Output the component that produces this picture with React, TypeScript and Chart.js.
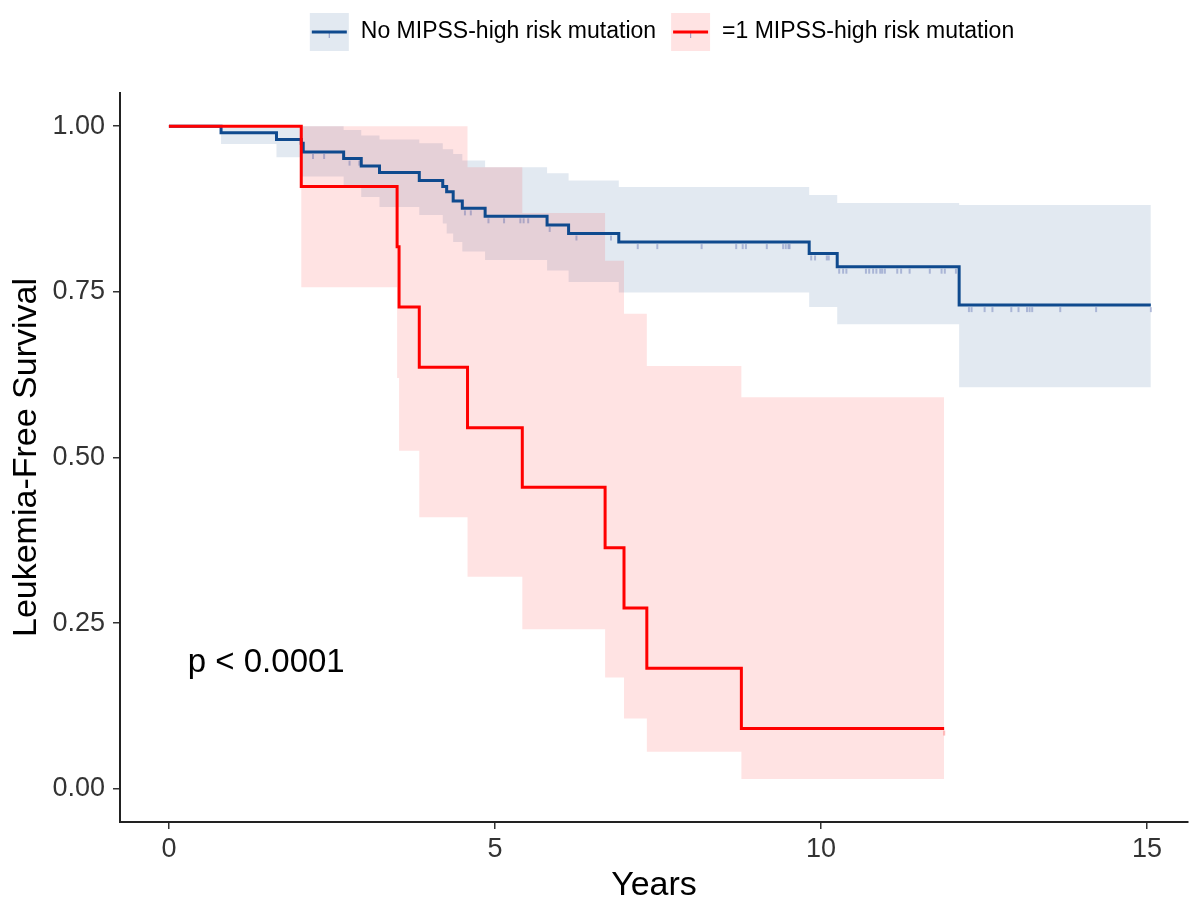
import React, { useEffect, useRef } from 'react';
import { Chart, registerables } from 'chart.js';

Chart.register(...registerables);

// ---------- data ----------
const seriesLabels = ['No MIPSS-high risk mutation', '=1 MIPSS-high risk mutation'];
const xTicks = [0, 5, 10, 15];
const yTicks = [0, 0.25, 0.5, 0.75, 1];
const yTickLabels = ['0.00', '0.25', '0.50', '0.75', '1.00'];
const xTitle = 'Years';
const yTitle = 'Leukemia-Free Survival';
const pValueText = 'p < 0.0001';
const pValueAt = [0.29, 0.19];

// No MIPSS-high risk mutation (blue)
const blueTimes = [0, 0.8, 1.65, 2.03, 2.06, 2.68, 2.95, 3.23, 3.84, 4.2, 4.26, 4.36, 4.5, 4.85, 5.8, 6.13, 6.9, 9.82, 10.25, 12.12, 15.06];
const blueSurv = [1, 0.99, 0.98, 0.974, 0.961, 0.951, 0.94, 0.93, 0.918, 0.909, 0.901, 0.887, 0.876, 0.864, 0.851, 0.838, 0.825, 0.808, 0.788, 0.73, 0.73];
const blueBandTimes = [0, 0.8, 1.65, 2.03, 2.68, 2.95, 3.23, 3.84, 4.2, 4.26, 4.36, 4.5, 4.85, 5.8, 6.13, 6.9, 9.82, 10.25, 12.12, 15.06];
const blueUpper = [1, 1, 1, 1, 0.994, 0.986, 0.98, 0.974, 0.965, 0.965, 0.958, 0.948, 0.938, 0.929, 0.918, 0.908, 0.896, 0.884, 0.881, 0.881];
const blueLower = [1, 0.973, 0.953, 0.924, 0.908, 0.893, 0.878, 0.866, 0.853, 0.838, 0.825, 0.811, 0.798, 0.782, 0.765, 0.749, 0.727, 0.701, 0.606, 0.606];
const blueCensor = [2.21, 2.38, 2.77, 2.92, 4.54, 4.63, 4.9, 5.14, 5.39, 5.44, 5.51, 5.84, 6.25, 6.78, 7.19, 7.49, 8.17, 8.7, 8.8, 8.85, 9.17, 9.42, 9.46, 9.5, 9.52, 9.85, 9.91, 10.09, 10.12, 10.28, 10.34, 10.39, 10.69, 10.74, 10.8, 10.85, 10.91, 10.94, 10.98, 11.17, 11.23, 11.36, 11.67, 11.85, 11.9, 12.07, 12.27, 12.31, 12.51, 12.63, 12.92, 13.03, 13.16, 13.2, 13.24, 13.67, 14.22, 15.06];

// =1 MIPSS-high risk mutation (red)
const redTimes = [0, 2.03, 3.5, 3.53, 3.84, 4.58, 5.42, 6.69, 6.98, 7.33, 8.78, 11.89];
const redSurv = [1, 0.909, 0.818, 0.727, 0.636, 0.545, 0.455, 0.364, 0.273, 0.182, 0.091, 0.091];
const redUpper = [1, 1, 1, 1, 1, 0.938, 0.869, 0.797, 0.717, 0.638, 0.591, 0.591];
const redLower = [1, 0.757, 0.62, 0.51, 0.41, 0.32, 0.241, 0.168, 0.106, 0.056, 0.015, 0.015];
const redCensor = [11.89];

// ---------- styles ----------
const FONT = '"Liberation Sans", Arial, sans-serif';
const BLUE = '#0f4a8e';
const RED = '#ff0000';
const BLUE_FILL = 'rgba(20,72,142,0.12)';
const RED_FILL = 'rgba(255,0,0,0.11)';
const CENSOR_COLOR = 'rgba(60,80,160,0.45)';
// Chart.js 'before' = horizontal to next x, then vertical (KM step)
const STEP = 'before';

const pts = (t: number[], v: number[]) => t.map((x, i) => ({ x, y: v[i] }));
const stepValue = (t: number[], v: number[], x: number) => {
  let r = v[0];
  for (let i = 0; i < t.length; i++) if (t[i] <= x) r = v[i];
  return r;
};

function makeCensorImage(color: string) {
  const c = document.createElement('canvas');
  c.width = 4;
  c.height = 16;
  const g = c.getContext('2d')!;
  g.strokeStyle = color;
  g.lineWidth = 1.5;
  g.beginPath();
  g.moveTo(2, 10);
  g.lineTo(2, 15);
  g.stroke();
  return c;
}

const legendPlugin = {
  id: 'kmLegend',
  afterDraw(chart: any) {
    const ctx = chart.ctx as CanvasRenderingContext2D;
    ctx.save();
    ctx.font = `23px ${FONT}`;
    const items = [
      { label: seriesLabels[0], line: BLUE, fill: BLUE_FILL },
      { label: seriesLabels[1], line: RED, fill: RED_FILL },
    ];
    const box = 39;
    const gap = 12;
    const between = 15;
    const widths = items.map((it) => ctx.measureText(it.label).width);
    const total = items.length * (box + gap) + widths.reduce((a, b) => a + b, 0) + between;
    const center = (chart.chartArea.left + chart.chartArea.right) / 2 + 8;
    let x = center - total / 2;
    const cy = 32;
    items.forEach((it, i) => {
      ctx.fillStyle = it.fill;
      ctx.fillRect(x, cy - 19, box, 38);
      ctx.strokeStyle = CENSOR_COLOR;
      ctx.lineWidth = 1.2;
      ctx.beginPath();
      ctx.moveTo(x + box / 2, cy);
      ctx.lineTo(x + box / 2, cy + 6);
      ctx.stroke();
      ctx.strokeStyle = it.line;
      ctx.lineWidth = 3;
      ctx.beginPath();
      ctx.moveTo(x + 2, cy);
      ctx.lineTo(x + box - 2, cy);
      ctx.stroke();
      ctx.fillStyle = '#000';
      ctx.textAlign = 'left';
      ctx.textBaseline = 'middle';
      ctx.fillText(it.label, x + box + gap, cy);
      x += box + gap + widths[i] + between;
    });
    ctx.restore();
  },
};

const pValuePlugin = {
  id: 'pValue',
  afterDatasetsDraw(chart: any) {
    const ctx = chart.ctx as CanvasRenderingContext2D;
    const xs = chart.scales.x;
    const ys = chart.scales.y;
    ctx.save();
    ctx.font = `33px ${FONT}`;
    ctx.fillStyle = '#000';
    ctx.textAlign = 'left';
    ctx.textBaseline = 'middle';
    ctx.fillText(pValueText, xs.getPixelForValue(pValueAt[0]), ys.getPixelForValue(pValueAt[1]));
    ctx.restore();
  },
};

export default function App() {
  const ref = useRef<HTMLCanvasElement | null>(null);

  useEffect(() => {
    document.body.style.margin = '0';
    const canvas = ref.current!;
    const blueCensorImg = makeCensorImage(CENSOR_COLOR);
    const redCensorImg = makeCensorImage('rgba(255,80,80,0.5)');

    const band = (t: number[], v: number[], fill: any, color: string, order: number) => ({
      type: 'line',
      data: pts(t, v),
      stepped: STEP,
      borderWidth: 0,
      borderColor: 'transparent',
      backgroundColor: color,
      pointRadius: 0,
      fill,
      order,
    });

    const chart = new Chart(canvas, {
      type: 'line',
      data: {
        datasets: [
          band(blueBandTimes, blueUpper, '+1', BLUE_FILL, 5),
          band(blueBandTimes, blueLower, false, BLUE_FILL, 5),
          band(redTimes, redUpper, '+1', RED_FILL, 4),
          band(redTimes, redLower, false, RED_FILL, 4),
          {
            type: 'line',
            data: blueCensor.map((x) => ({ x, y: stepValue(blueTimes, blueSurv, x) })),
            showLine: false,
            pointStyle: blueCensorImg,
            pointRadius: 3,
            order: 2,
          },
          {
            type: 'line',
            data: redCensor.map((x) => ({ x, y: stepValue(redTimes, redSurv, x) })),
            showLine: false,
            pointStyle: redCensorImg,
            pointRadius: 3,
            order: 2,
          },
          {
            type: 'line',
            label: seriesLabels[0],
            data: pts(blueTimes, blueSurv),
            stepped: STEP,
            borderColor: BLUE,
            borderWidth: 3,
            pointRadius: 0,
            fill: false,
            order: 1,
          },
          {
            type: 'line',
            label: seriesLabels[1],
            data: pts(redTimes, redSurv),
            stepped: STEP,
            borderColor: RED,
            borderWidth: 3,
            pointRadius: 0,
            fill: false,
            order: 0,
          },
        ] as any,
      },
      options: {
        animation: false,
        responsive: false,
        events: [],
        layout: { padding: { top: 93, left: 0, right: 8, bottom: 0 } },
        plugins: {
          legend: { display: false },
          tooltip: { enabled: false },
          filler: { propagate: false },
        },
        scales: {
          x: {
            type: 'linear',
            min: -0.75,
            max: 15.63,
            afterBuildTicks: (s: any) => {
              s.ticks = xTicks.map((v) => ({ value: v }));
            },
            afterFit: (s: any) => {
              s.height = 84;
            },
            ticks: {
              font: { family: FONT, size: 27 },
              color: '#333',
              padding: 4,
              callback: (v: any) => String(v),
              maxRotation: 0,
            },
            grid: { drawOnChartArea: false, drawTicks: true, tickLength: 7, color: '#333', lineWidth: 1.5 },
            border: { display: true, color: '#222', width: 2 },
            title: {
              display: true,
              text: xTitle,
              font: { family: FONT, size: 34 },
              color: '#000',
              padding: { top: 0, bottom: 0 },
            },
          },
          y: {
            type: 'linear',
            min: -0.05,
            max: 1.05,
            afterBuildTicks: (s: any) => {
              s.ticks = yTicks.map((v) => ({ value: v }));
            },
            afterFit: (s: any) => {
              s.width = 120;
            },
            ticks: {
              font: { family: FONT, size: 27 },
              color: '#333',
              padding: 8,
              callback: (v: any) => {
                const i = yTicks.indexOf(Number(v));
                return i >= 0 ? yTickLabels[i] : '';
              },
            },
            grid: { drawOnChartArea: false, drawTicks: true, tickLength: 7, color: '#333', lineWidth: 1.5 },
            border: { display: true, color: '#222', width: 2 },
            title: {
              display: true,
              text: yTitle,
              font: { family: FONT, size: 34 },
              color: '#000',
              padding: { top: 6, bottom: 0 },
            },
          },
        },
      } as any,
      plugins: [legendPlugin, pValuePlugin],
    });
    return () => chart.destroy();
  }, []);

  return (
    <div style={{ width: 1196, height: 906, background: '#fff' }}>
      <canvas ref={ref} width={1196} height={906} style={{ display: 'block' }} />
    </div>
  );
}
